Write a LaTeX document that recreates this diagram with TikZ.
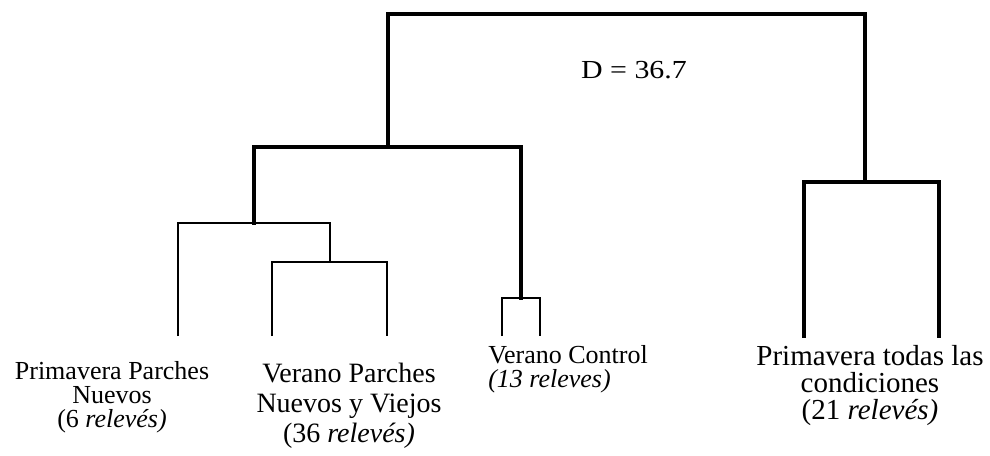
\documentclass[tikz,border=0pt]{standalone}
\usepackage{fontspec}
\setmainfont{Liberation Serif}
\newfontfamily\dfont[FakeStretch=1.15]{Liberation Serif}
\begin{document}
\begin{tikzpicture}[x=0.75pt,y=-0.75pt,
  thk/.style={line width=2.4pt,line join=miter,line cap=rect},
  thn/.style={line width=0.9pt,line join=miter},
  lab/.style={inner sep=0pt,align=center,anchor=base}]
\useasboundingbox[fill=white] (0,0) rectangle (990,455);
% junction coordinates
\coordinate (top) at (626,14);
\coordinate (jA) at (388,147);
\coordinate (jB) at (865,182);
\coordinate (jC) at (254,223);
\coordinate (jD) at (330,262);
\coordinate (jE) at (521,298);
% leaves
\coordinate (l1) at (178,336);
\coordinate (l2) at (272,336);
\coordinate (l3) at (387,336);
\coordinate (l4) at (502,336);
\coordinate (l5) at (540,336);
\coordinate (l6) at (804,336);
\coordinate (l7) at (939,336);
% thick branches
\draw[thk] (jA) -- (jA |- top) -| (jB);
\draw[thk] (jC) -- (jC |- jA) -- (jE |- jA) -- (jE);
\draw[thk] (l6) -- (l6 |- jB) -- (l7 |- jB) -- (l7);
% thin branches
\draw[thn] (l1) -- (l1 |- jC) -- (jD |- jC) -- (jD);
\draw[thn] (l2) -- (l2 |- jD) -- (l3 |- jD) -- (l3);
\draw[thn] (l4) -- (l4 |- jE) -- (l5 |- jE) -- (l5);
% labels (anchor base = baseline of last line)
\node[inner sep=0pt,anchor=base,font=\dfont\fontsize{19.5pt}{20pt}\selectfont] (dist) at (634,78) {D = 36.7};
\node[lab,font=\fontsize{19.5pt}{18pt}\selectfont] (t1) at (112,427) {Primavera Parches\\Nuevos\\(6 \textit{relevés)}};
\node[lab,font=\fontsize{21pt}{22.5pt}\selectfont] (t2) at (349,442) {Verano Parches\\Nuevos y Viejos\\(36 \textit{relevés)}};
\node[inner sep=0pt,align=left,anchor=base west,font=\fontsize{19.5pt}{18pt}\selectfont] (t3) at (488,387) {Verano Control\\\textit{(13 releves)}};
\node[lab,font=\fontsize{21.75pt}{20.25pt}\selectfont] (t4) at (870,419) {Primavera todas las\\condiciones\\(21 \textit{relevés)}};
\end{tikzpicture}
\end{document}
